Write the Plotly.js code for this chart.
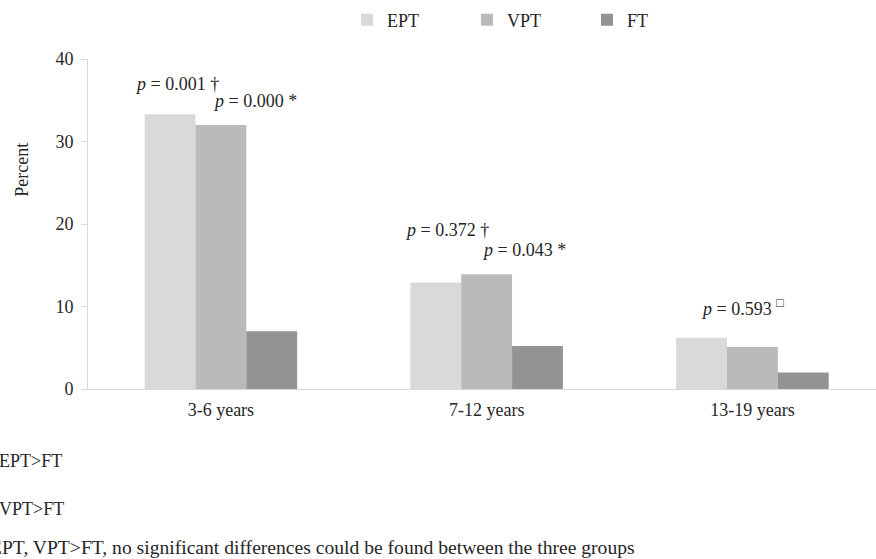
<!DOCTYPE html>
<html>
<head>
<meta charset="utf-8">
<script src="https://cdn.plot.ly/plotly-3.0.1.min.js"></script>
<style>html,body{margin:0;padding:0;background:#fff;}#chart{width:876px;height:559px;}</style>
</head>
<body>
<div id="chart"></div>
<script>
var categories = ["3-6 years", "7-12 years", "13-19 years"];
var seriesNames = ["EPT", "VPT", "FT"];
var eptValues = [33.3, 12.9, 6.2];
var vptValues = [32.0, 13.9, 5.1];
var ftValues = [7.0, 5.2, 2.0];
var seriesColors = ["#d9d9d9", "#bababa", "#939393"];
var yTickValues = [0, 10, 20, 30, 40];
var yTickLabels = ["0", "10", "20", "30", "40"];
var pLabels = [
  {text: "<i>p</i> = 0.001 †", cat: 0, dx: -0.167, y: 37.0},
  {text: "<i>p</i> = 0.000 *", cat: 0, dx: 0.128, y: 34.95},
  {text: "<i>p</i> = 0.372 †", cat: 1, dx: -0.151, y: 19.3},
  {text: "<i>p</i> = 0.043 *", cat: 1, dx: 0.14, y: 16.8},
  {text: "<i>p</i> = 0.593 <sup>□</sup>", cat: 2, dx: -0.036, y: 9.84}
];
var footnotes = [
  {text: "EPT>FT", x: -3, y: 462, size: 18},
  {text: "VPT>FT", x: -3, y: 510, size: 18},
  {text: "EPT, VPT>FT, no significant differences could be found between the three groups", x: -12, y: 548, size: 19.6}
];

var FONT = "'Liberation Serif', 'Times New Roman', Times, serif";
var TXT = "#262626";
var values = [eptValues, vptValues, ftValues];
var traces = seriesNames.map(function(n, i){
  return {type: "bar", name: n, x: categories, y: values[i],
    marker: {color: seriesColors[i], line: {width: 0}}, hoverinfo: "none"};
});

var L = 88, T = 59, PH = 330.5, PW = 788;
var annotations = pLabels.map(function(p){
  return {xref: "x", yref: "y", x: p.cat + p.dx, y: p.y, text: p.text, showarrow: false,
    xanchor: "center", yanchor: "middle", font: {family: FONT, size: 18, color: TXT}};
});
footnotes.forEach(function(f){
  annotations.push({xref: "paper", yref: "paper", x: (f.x - L) / PW, y: (T + PH - f.y) / PH,
    text: f.text, showarrow: false, xanchor: "left", yanchor: "middle",
    font: {family: FONT, size: f.size, color: TXT}});
});
annotations.push({xref: "paper", yref: "paper", x: (22 - L) / PW, y: (T + PH - 170) / PH,
  text: "Percent", textangle: -90, showarrow: false, xanchor: "center", yanchor: "middle",
  font: {family: FONT, size: 18, color: TXT}});

var layout = {
  width: 876, height: 559,
  margin: {l: L, r: 0, t: T, b: 559 - T - PH, pad: 0},
  paper_bgcolor: "#fff", plot_bgcolor: "#fff",
  font: {family: FONT, size: 18, color: TXT},
  barmode: "group", bargap: 0.426, bargroupgap: 0,
  xaxis: {type: "category", range: [-0.5, 2.465], showgrid: false, zeroline: false,
    showline: true, linecolor: "#d9d9d9", linewidth: 1, ticks: "", ticklabelstandoff: 4,
    tickfont: {family: FONT, size: 18, color: TXT}, fixedrange: true},
  yaxis: {range: [0, 40], tickvals: yTickValues, ticktext: yTickLabels, showgrid: false,
    zeroline: false, showline: true, linecolor: "#d9d9d9", linewidth: 1,
    ticks: "outside", ticklen: 6, tickcolor: "#d9d9d9", tickwidth: 1, ticklabelstandoff: 4,
    tickfont: {family: FONT, size: 18, color: TXT}, fixedrange: true},
  showlegend: true,
  legend: {orientation: "h", xref: "paper", yref: "paper", x: (347 - L) / PW, xanchor: "left",
    y: (T + PH - 20) / PH, yanchor: "middle", entrywidth: 75, entrywidthmode: "pixels",
    font: {family: FONT, size: 18, color: TXT}, bgcolor: "rgba(0,0,0,0)", itemclick: false},
  annotations: annotations
};
Plotly.newPlot("chart", traces, layout, {displayModeBar: false, staticPlot: true});
</script>
</body>
</html>
